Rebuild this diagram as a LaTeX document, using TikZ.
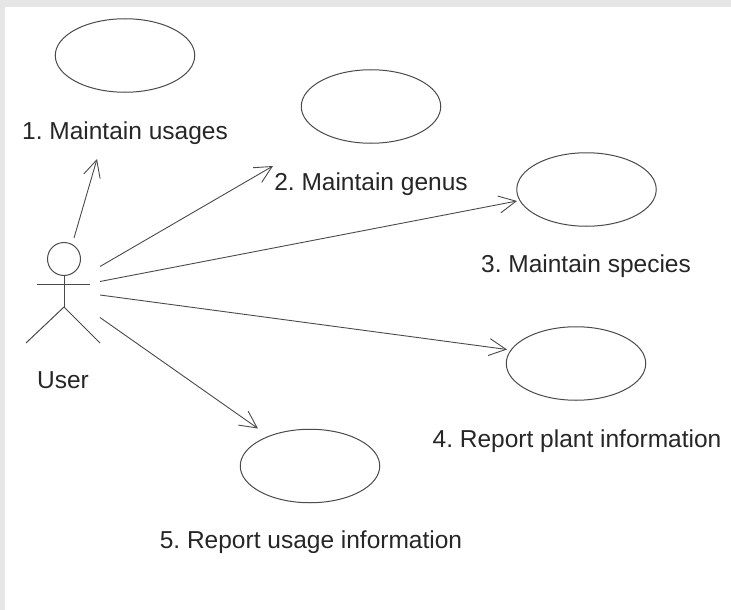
\documentclass[tikz,border=0pt]{standalone}
\usepackage{fontspec}
\setmainfont{Liberation Sans}
\usetikzlibrary{arrows.meta,shapes.geometric}
\definecolor{frame}{HTML}{E6E6E6}
\definecolor{ink}{HTML}{4A4A4A}
\definecolor{txt}{HTML}{262626}
\frenchspacing
\begin{document}
\begin{tikzpicture}[x=1pt,y=-1pt,
  usecase/.style={draw=ink,line width=1pt,ellipse,inner sep=0pt,
    minimum width=139.5pt,minimum height=73.5pt},
  caption/.style={anchor=base,text=txt,inner sep=0pt,
    font=\fontsize{24.5}{29}\selectfont},
  link/.style={draw=ink,line width=0.9pt,
    -{Straight Barb[length=17pt,width=17pt,line width=0.9pt]}},
  limb/.style={draw=ink,line width=1pt}]
  % canvas with its grey frame strip
  \fill[frame] (0,0) rectangle (731,610);
  \fill[white] (5,7) rectangle (731,610);
  \useasboundingbox (0,0) rectangle (731,610);

  % actor
  \node[draw=ink,line width=1pt,circle,minimum size=33pt,inner sep=0pt] (head) at (64,259) {};
  \coordinate (neck) at (64,275.5);
  \coordinate (hip) at (64,307);
  \draw[limb] (neck) -- (hip);
  \draw[limb] (37,284) -- (89.5,284);
  \draw[limb] (26,343) -- (hip) -- (100,343);
  \node[caption] (user) at (63,388) {User};

  % use cases
  \node[usecase] (uc1) at (125,55.5) {};
  \node[usecase] (uc2) at (371,106.5) {};
  \node[usecase] (uc3) at (586.5,189.5) {};
  \node[usecase] (uc4) at (576,363.5) {};
  \node[usecase] (uc5) at (310,466) {};

  \node[caption] (l1) at (125,139) {1. Maintain usages};
  \node[caption] (l2) at (371,190) {2. Maintain genus};
  \node[caption] (l3) at (586,272) {3. Maintain species};
  \node[caption] (l4) at (577,447) {4. Report plant information};
  \node[caption] (l5) at (311,548) {5. Report usage information};

  % association ends
  \coordinate (s1) at (74,238);   \coordinate (t1) at (97,159);
  \coordinate (s2) at (100,266.5); \coordinate (t2) at (273,166);
  \coordinate (s3) at (100,281.5); \coordinate (t3) at (517,201);
  \coordinate (s4) at (100,295);   \coordinate (t4) at (507,349.5);
  \coordinate (s5) at (100,317.5); \coordinate (t5) at (258,428.5);

  \draw[link] (s1) -- (t1);
  \draw[link] (s2) -- (t2);
  \draw[link] (s3) -- (t3);
  \draw[link] (s4) -- (t4);
  \draw[link] (s5) -- (t5);
\end{tikzpicture}
\end{document}
